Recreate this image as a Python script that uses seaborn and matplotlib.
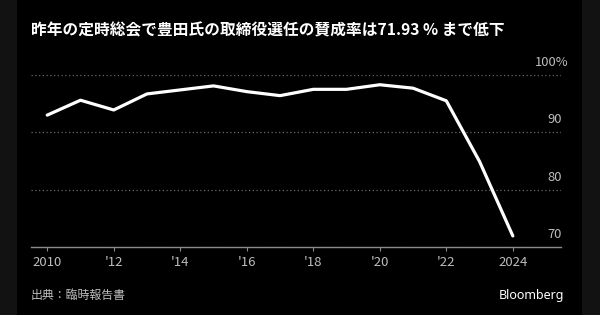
import matplotlib
matplotlib.use("Agg")
import matplotlib.pyplot as plt
import matplotlib.transforms as mtransforms
from matplotlib.patches import Rectangle
import seaborn as sns
import pandas as pd

years = [2010, 2011, 2012, 2013, 2014, 2015, 2016, 2017, 2018, 2019, 2020, 2021, 2022, 2023, 2024]
approval = [93.0, 95.6, 93.9, 96.7, 97.4, 98.1, 97.1, 96.4, 97.5, 97.5, 98.3, 97.7, 95.5, 84.9, 71.93]
xtick_values = [2010, 2012, 2014, 2016, 2018, 2020, 2022, 2024]
xtick_labels = ["2010", "'12", "'14", "'16", "'18", "'20", "'22", "2024"]
ytick_values = [70, 80, 90, 100]
ytick_labels = ["70", "80", "90", "100%"]
title = "昨年の定時総会で豊田氏の取締役選任の賛成率は71.93 % まで低下"
source = "出典：臨時報告書"
brand = "Bloomberg"

sns.set_theme(style="dark")
plt.rcParams["font.family"] = ["Noto Sans CJK JP", "DejaVu Sans"]

df = pd.DataFrame({"year": years, "approval": approval})

fig = plt.figure(figsize=(6, 3.15), dpi=100, facecolor="#121212")
fig.patches.append(Rectangle((17 / 600, 0), (582 - 17) / 600, 1, transform=fig.transFigure,
                             facecolor="black", edgecolor="none", zorder=-10))

ax = fig.add_axes([30.6 / 600, 1 - 247 / 315, (561.4 - 30.6) / 600, (247 - 75) / 315])
ax.set_facecolor("black")
ax.set_zorder(1)

sns.lineplot(data=df, x="year", y="approval", ax=ax, color="white", linewidth=2.3, clip_on=False)

ax.set_xlim(2009.5, 2025.46)
ax.set_ylim(70, 100)
ax.set_xlabel("")
ax.set_ylabel("")

for s in ["top", "right", "left"]:
    ax.spines[s].set_visible(False)
ax.spines["bottom"].set_visible(True)
ax.spines["bottom"].set_color("#8a8a8a")
ax.spines["bottom"].set_linewidth(1.0)

ax.set_xticks(xtick_values)
ax.set_xticklabels(xtick_labels)
ax.tick_params(axis="x", direction="out", length=3, width=0.8, color="#8a8a8a",
               labelcolor="#bdbdbd", labelsize=9.5, pad=3.5, bottom=True)

ax.set_yticks(ytick_values)
ax.set_yticklabels([])
ax.tick_params(axis="y", length=0, left=False, right=False)
ax.yaxis.grid(True, color="#6a6a6a", linestyle=(0, (1, 2)), linewidth=0.9)
ax.xaxis.grid(False)

ytrans = ax.get_yaxis_transform()
for v, lab in zip(ytick_values, ytick_labels):
    dx = 7.5 / 100 if lab.endswith("%") else 0.0
    off = mtransforms.ScaledTranslation(dx, 12.5 / 100, fig.dpi_scale_trans)
    ax.text(1.0, v, lab, transform=ytrans + off, ha="right", va="center",
            fontsize=9.3, color="#bdbdbd", clip_on=False)

fig.text(31 / 600, 1 - 30 / 315, title, ha="left", va="center", fontsize=11.3,
         fontweight="bold", color="white")
fig.text(31 / 600, 1 - 295 / 315, source, ha="left", va="center", fontsize=8.6, color="#bdbdbd")
fig.text(564 / 600, 1 - 295 / 315, brand, ha="right", va="center", fontsize=9,
         fontweight="bold", color="white", family=["Noto Sans", "DejaVu Sans"])

fig.savefig("out.png", dpi=100, facecolor=fig.get_facecolor())
